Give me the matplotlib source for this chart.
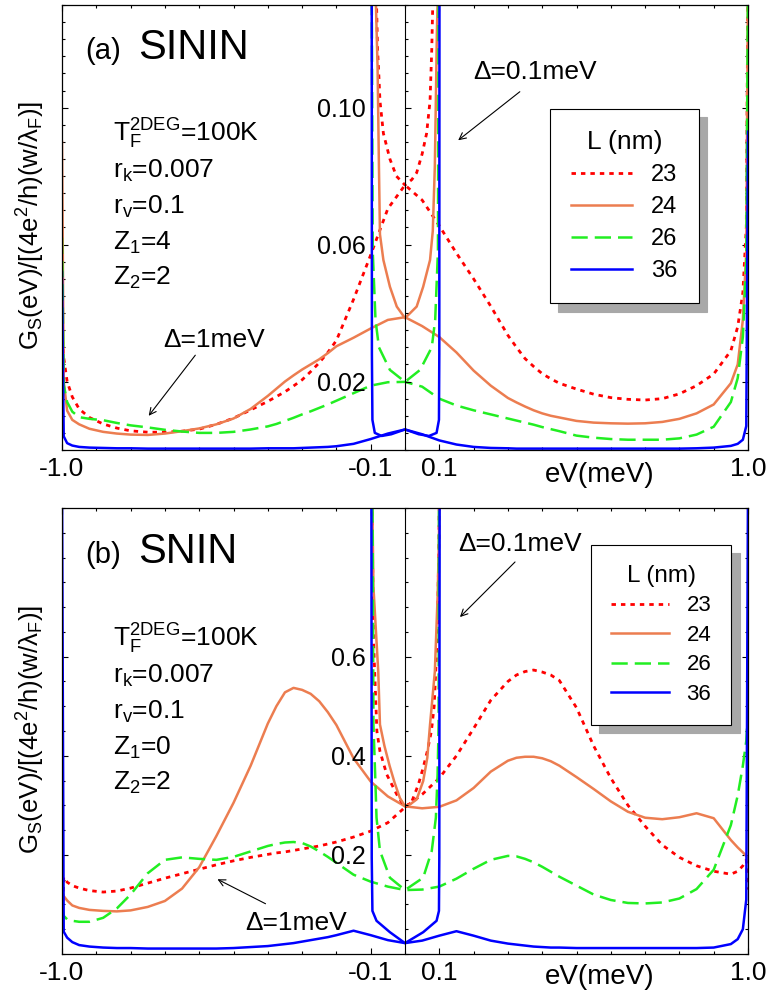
import matplotlib
matplotlib.use('Agg')
import matplotlib.pyplot as plt
from matplotlib.ticker import MultipleLocator, FixedLocator

plt.rcParams['font.family'] = ['Liberation Sans', 'DejaVu Sans']
plt.rcParams['mathtext.fontset'] = 'custom'
plt.rcParams['mathtext.rm'] = 'Liberation Sans'
plt.rcParams['mathtext.it'] = 'Liberation Sans:italic'

W, H = 769, 1000

# ---- data: bias eV (meV) for the Delta = 1 meV curves -----------------
ev = [-1.0, -0.995, -0.985, -0.97, -0.95, -0.92, -0.88, -0.84, -0.8,
      -0.75, -0.7, -0.65, -0.6, -0.55, -0.5, -0.45, -0.4, -0.375, -0.35, -0.325, -0.3, -0.275, -0.25, -0.225, -0.2, -0.15, -0.1, -0.05,
      0.0, 0.05, 0.1, 0.15, 0.2, 0.25, 0.3, 0.325, 0.35, 0.375, 0.4, 0.425, 0.45,
      0.5, 0.55, 0.6, 0.65, 0.7, 0.75, 0.8, 0.85, 0.9, 0.95,
      0.97, 0.985, 0.995, 1.0]

L_labels = ['23', '24', '26', '36']

# (a) SININ, Delta = 1 meV
a_red = [0.035, 0.027, 0.020, 0.0155, 0.012, 0.0095, 0.0076, 0.0064, 0.0056,
         0.0052, 0.0052, 0.0055, 0.0061, 0.0075, 0.0093, 0.0117, 0.0142, 0.0156, 0.0170, 0.0187, 0.0205, 0.0229, 0.0255, 0.0285, 0.032, 0.044, 0.057, 0.0705,
         0.0774, 0.073, 0.0655, 0.0575, 0.050, 0.042, 0.0335, 0.0300, 0.0267, 0.0244, 0.0223, 0.0208, 0.0195,
         0.0178, 0.0163, 0.0153, 0.0148, 0.0146, 0.0150, 0.0164, 0.0188, 0.0222, 0.029,
         0.036, 0.046, 0.065, 0.14]
a_org = [0.09, 0.020, 0.0115, 0.0088, 0.0075, 0.0062, 0.0053, 0.0048, 0.0045,
         0.0044, 0.0048, 0.0055, 0.0063, 0.0075, 0.0092, 0.0120, 0.0158, 0.0179, 0.0200, 0.0218, 0.0235, 0.0250, 0.0265, 0.0283, 0.0303, 0.0328, 0.0355, 0.0380,
         0.0388, 0.0362, 0.0330, 0.0285, 0.0232, 0.0188, 0.0152, 0.0139, 0.0127, 0.0116, 0.0107, 0.0100, 0.0095,
         0.0085, 0.0080, 0.0078, 0.0077, 0.0078, 0.0082, 0.0091, 0.0107, 0.0133, 0.0195,
         0.025, 0.038, 0.058, 0.14]
a_grn = [0.062, 0.019, 0.014, 0.0112, 0.0096, 0.0091, 0.0087, 0.0079, 0.0072,
         0.0066, 0.0059, 0.0054, 0.0050, 0.0050, 0.0053, 0.0060, 0.0069, 0.0076, 0.0085, 0.0094, 0.0104, 0.0113, 0.0123, 0.0133, 0.0144, 0.0166, 0.0188, 0.0198,
         0.0199, 0.0185, 0.0150, 0.0130, 0.0116, 0.0104, 0.0092, 0.0086, 0.0080, 0.0074, 0.0067, 0.0061, 0.0055,
         0.0042, 0.0036, 0.0032, 0.0030, 0.0030, 0.0030, 0.0034, 0.0045, 0.0068, 0.0140,
         0.021, 0.033, 0.055, 0.14]
a_blu = [0.052, 0.004, 0.002, 0.0013, 0.0009, 0.0007, 0.0006, 0.0005, 0.0005,
         0.0004, 0.0004, 0.0004, 0.0004, 0.0004, 0.0004, 0.0004, 0.0005, 0.0005, 0.0005, 0.0005, 0.0006, 0.0007, 0.0008, 0.0009, 0.0011, 0.0018, 0.0032, 0.0048,
         0.0060, 0.0046, 0.0028, 0.0016, 0.0009, 0.0006, 0.0005, 0.0004, 0.0004, 0.0004, 0.0004, 0.0004, 0.0004,
         0.0004, 0.0004, 0.0004, 0.0004, 0.0004, 0.0004, 0.0004, 0.0005, 0.0007, 0.0012,
         0.0018, 0.003, 0.007, 0.093]

# (b) SNIN, Delta = 1 meV
b_red = [0.05, 0.155, 0.145, 0.138, 0.133, 0.128, 0.125, 0.127, 0.133,
         0.143, 0.153, 0.162, 0.171, 0.180, 0.188, 0.195, 0.201, 0.204, 0.206, 0.209, 0.212, 0.215, 0.218, 0.222, 0.226, 0.236, 0.248, 0.265,
         0.296, 0.322, 0.355, 0.400, 0.455, 0.512, 0.550, 0.563, 0.570, 0.573, 0.569, 0.563, 0.552,
         0.497, 0.420, 0.355, 0.300, 0.258, 0.220, 0.195, 0.178, 0.167, 0.161,
         0.167, 0.178, 0.190, 0.13]
b_org = [0.13, 0.117, 0.108, 0.098, 0.093, 0.089, 0.087, 0.086, 0.088,
         0.095, 0.107, 0.132, 0.175, 0.238, 0.305, 0.380, 0.465, 0.500, 0.528, 0.537, 0.533, 0.525, 0.510, 0.488, 0.462, 0.395, 0.348, 0.318,
         0.298, 0.294, 0.297, 0.310, 0.335, 0.368, 0.390, 0.396, 0.398, 0.398, 0.395, 0.389, 0.380,
         0.357, 0.333, 0.308, 0.287, 0.275, 0.272, 0.276, 0.284, 0.274, 0.230,
         0.215, 0.205, 0.198, 0.19]
b_grn = [0.10, 0.077, 0.070, 0.067, 0.065, 0.065, 0.073, 0.092, 0.120,
         0.163, 0.190, 0.195, 0.192, 0.190, 0.196, 0.207, 0.218, 0.222, 0.225, 0.226, 0.224, 0.217, 0.207, 0.196, 0.184, 0.160, 0.146, 0.136,
         0.129, 0.130, 0.136, 0.152, 0.172, 0.190, 0.198, 0.197, 0.192, 0.185, 0.176, 0.166, 0.156,
         0.138, 0.120, 0.109, 0.103, 0.102, 0.104, 0.112, 0.131, 0.170, 0.260,
         0.320, 0.380, 0.430, 0.49]
b_blu = [0.95, 0.045, 0.033, 0.024, 0.018, 0.015, 0.013, 0.012, 0.012,
         0.011, 0.011, 0.011, 0.011, 0.011, 0.012, 0.014, 0.016, 0.018, 0.020, 0.022, 0.025, 0.028, 0.031, 0.034, 0.038, 0.047, 0.038, 0.028,
         0.022, 0.027, 0.037, 0.046, 0.037, 0.027, 0.021, 0.019, 0.017, 0.015, 0.014, 0.013, 0.013,
         0.012, 0.012, 0.012, 0.012, 0.012, 0.012, 0.012, 0.012, 0.013, 0.020,
         0.030, 0.050, 0.11, 0.95]

# Delta = 0.1 meV curves (sub-gap part only)
ua_red_x = [-0.084, -0.080, -0.076, -0.073, -0.063, -0.044, -0.025, 0.0, 0.020, 0.034, 0.050, 0.063, 0.073, 0.078, 0.082]
ua_red_y = [0.135, 0.117, 0.109, 0.102, 0.0925, 0.085, 0.080, 0.0774, 0.079, 0.081, 0.0865, 0.0925, 0.102, 0.117, 0.135]
ua_org_x = [-0.086, -0.080, -0.076, -0.073, -0.063, -0.044, -0.024, 0.0, 0.034, 0.053, 0.073, 0.081, 0.087, 0.093, 0.096]
ua_org_y = [0.135, 0.112, 0.083, 0.063, 0.0555, 0.0477, 0.0419, 0.0385, 0.0419, 0.0477, 0.0555, 0.064, 0.083, 0.122, 0.135]
ua_grn_x = [-0.097, -0.094, -0.090, -0.086, -0.076, -0.044, 0.0, 0.044, 0.078, 0.088, 0.092, 0.096, 0.098]
ua_grn_y = [0.135, 0.058, 0.048, 0.038, 0.030, 0.0234, 0.0199, 0.0234, 0.030, 0.038, 0.048, 0.058, 0.135]
ua_blu_x = [-0.097, -0.0965, -0.095, -0.088, -0.068, -0.040, 0.0, 0.040, 0.070, 0.092, 0.099, 0.100, 0.1005]
ua_blu_y = [0.135, 0.028, 0.0088, 0.005, 0.0041, 0.0046, 0.0060, 0.0046, 0.0041, 0.005, 0.0088, 0.028, 0.135]

ub_red_x = [-0.096, -0.095, -0.092, -0.082, -0.073, -0.053, -0.024, 0.0, 0.020, 0.039, 0.053, 0.065, 0.077, 0.085, 0.094, 0.099, 0.100]
ub_red_y = [0.95, 0.838, 0.637, 0.450, 0.409, 0.362, 0.322, 0.296, 0.308, 0.342, 0.376, 0.409, 0.450, 0.500, 0.637, 0.838, 0.95]
ub_org_x = [-0.096, -0.092, -0.078, -0.073, -0.060, -0.045, -0.030, -0.015, 0.0, 0.015, 0.034, 0.053, 0.065, 0.073, 0.087, 0.095, 0.099, 0.100]
ub_org_y = [0.95, 0.74, 0.57, 0.463, 0.42, 0.38, 0.345, 0.315, 0.298, 0.302, 0.312, 0.349, 0.396, 0.463, 0.57, 0.72, 0.84, 0.95]
ub_grn_x = [-0.095, -0.092, -0.087, -0.083, -0.073, -0.044, 0.0, 0.053, 0.078, 0.090, 0.095, 0.098, 0.099]
ub_grn_y = [0.95, 0.463, 0.362, 0.275, 0.208, 0.154, 0.129, 0.154, 0.208, 0.275, 0.362, 0.463, 0.95]
ub_blu_x = [-0.098, -0.097, -0.095, -0.083, -0.044, 0.0, 0.053, 0.092, 0.099, 0.100, 0.101]
ub_blu_y = [0.95, 0.195, 0.087, 0.067, 0.044, 0.022, 0.044, 0.067, 0.087, 0.195, 0.95]

x_ticks = [-1.0, -0.1, 0.1, 1.0]
x_ticklabels = ['-1.0', '-0.1', '0.1', '1.0']

styles = [
    dict(color='#ff0000', lw=2.0, ls=(0, (1.6, 1.8))),
    dict(color='#ec7d50', lw=1.8, ls='-'),
    dict(color='#22ee22', lw=1.8, ls=(0, (6.5, 2.8))),
    dict(color='#0000ff', lw=1.8, ls='-'),
]


def fx(px):
    return px / W


def fy(py):
    return 1 - py / H


fig = plt.figure(figsize=(W / 100, H / 100), dpi=100)


def make_panel(top_px, bot_px, ylim, yticks, yticklabels, yminor, full, sub, tag, name, params, p):
    ax = fig.add_axes([fx(62), fy(bot_px), fx(748) - fx(62), (bot_px - top_px) / H])
    lines = []
    for ys, st, lab in zip(full, styles, L_labels):
        ln, = ax.plot(ev, ys, label=lab, **st)
        lines.append(ln)
    for (xs, ys), st in zip(sub, styles):
        ax.plot(xs, ys, **st)
    ax.set_xlim(-1.0, 1.0)
    ax.set_ylim(*ylim)
    ax.xaxis.set_major_locator(FixedLocator(x_ticks))
    ax.set_xticklabels(x_ticklabels)
    ax.xaxis.set_minor_locator(MultipleLocator(0.1))
    ax.yaxis.set_major_locator(FixedLocator(yticks))
    ax.yaxis.set_minor_locator(MultipleLocator(yminor))
    ax.tick_params(which='both', direction='in', top=True, right=True, width=0.8)
    ax.tick_params(which='major', length=4.5)
    ax.tick_params(which='minor', length=2.5)
    ax.tick_params(axis='x', labelsize=19, pad=5)
    ax.tick_params(axis='y', labelleft=False)
    for s in ax.spines.values():
        s.set_linewidth(0.9)

    # axis drawn through eV = 0 carrying the y labels
    cax = fig.add_axes(ax.get_position().bounds)
    cax.set_ylim(*ylim)
    cax.patch.set_visible(False)
    for s in ('top', 'right', 'bottom'):
        cax.spines[s].set_visible(False)
    cax.spines['left'].set_position(('axes', 0.5))
    cax.spines['left'].set_linewidth(0.8)
    cax.set_xticks([])
    cax.yaxis.set_major_locator(FixedLocator(yticks))
    cax.set_yticklabels(yticklabels)
    cax.yaxis.set_minor_locator(MultipleLocator(yminor))
    cax.tick_params(axis='y', which='both', direction='in', width=0.8, labelsize=18, pad=28)
    cax.tick_params(which='major', length=4.5)
    cax.tick_params(which='minor', length=2.5)

    leg = ax.legend(handles=lines, title='L (nm)', loc='upper left',
                    bbox_to_anchor=p['leg_anchor'], borderaxespad=0,
                    fancybox=False, edgecolor='black', framealpha=1,
                    fontsize=p['leg_fs'], title_fontsize=p['leg_tfs'],
                    handlelength=2.6, handletextpad=0.8, labelspacing=p['leg_sp'],
                    borderpad=0.9,
                    shadow={'ox': 6, 'oy': -6, 'color': '#a8a8a8', 'alpha': 1})
    leg.get_frame().set_linewidth(0.8)

    fig.text(fx(85), fy(p['tag_y']), tag, fontsize=21, va='baseline')
    fig.text(fx(138), fy(p['tag_y']), name, fontsize=30, va='baseline')
    for i, s in enumerate(params):
        fig.text(fx(113), fy(p['par_y0'] + 35.8 * i), s, fontsize=19, va='baseline')

    fig.text(fx(31), fy((top_px + bot_px) / 2 - 2), r'G$_\mathregular{S}$(eV)/[(4e$^\mathregular{2}$/h)(w/λ$_\mathregular{F}$)]',
             rotation=90, ha='center', va='center', fontsize=18.5)
    fig.text(fx(600), fy(p['xlab_y']), 'eV(meV)', fontsize=20, ha='center', va='baseline')

    for txt, tpos, a0, a1 in p['notes']:
        fig.text(fx(tpos[0]), fy(tpos[1]), txt, fontsize=19, va='baseline')
        ax.annotate('', xy=(fx(a1[0]), fy(a1[1])), xytext=(fx(a0[0]), fy(a0[1])),
                    xycoords='figure fraction', textcoords='figure fraction',
                    arrowprops=dict(arrowstyle='->', lw=0.8, color='black', mutation_scale=12))
    return ax


make_panel(5, 450, (0, 0.13), [0.02, 0.06, 0.10], ['0.02', '0.06', '0.10'], 0.005,
           [a_red, a_org, a_grn, a_blu],
           [(ua_red_x, ua_red_y), (ua_org_x, ua_org_y), (ua_grn_x, ua_grn_y), (ua_blu_x, ua_blu_y)],
           '(a)', 'SININ',
           [r'$\mathregular{T_F^{2DEG}}$=100K', r'r$_\mathregular{k}$=0.007', r'r$_\mathregular{v}$=0.1',
            r'Z$_\mathregular{1}$=4', r'Z$_\mathregular{2}$=2'],
           dict(leg_anchor=(0.711, 0.766), leg_fs=17, leg_tfs=19, leg_sp=0.42,
                tag_y=59, par_y0=142, xlab_y=482,
                notes=[('Δ=0.1meV', (473, 79), (522, 90), (456, 142)),
                       ('Δ=1meV', (163, 347), (197, 353), (147, 418))]))

make_panel(508, 954, (0, 0.9), [0.2, 0.4, 0.6], ['0.2', '0.4', '0.6'], 0.05,
           [b_red, b_org, b_grn, b_blu],
           [(ub_red_x, ub_red_y), (ub_org_x, ub_org_y), (ub_grn_x, ub_grn_y), (ub_blu_x, ub_blu_y)],
           '(b)', 'SNIN',
           [r'$\mathregular{T_F^{2DEG}}$=100K', r'r$_\mathregular{k}$=0.007', r'r$_\mathregular{v}$=0.1',
            r'Z$_\mathregular{1}$=0', r'Z$_\mathregular{2}$=2'],
           dict(leg_anchor=(0.771, 0.917), leg_fs=16, leg_tfs=17.5, leg_sp=0.38,
                tag_y=563, par_y0=647, xlab_y=984,
                notes=[('Δ=0.1meV', (458, 551), (517, 560), (458, 619)),
                       ('Δ=1meV', (245, 930), (268, 905), (215, 878))]))

fig.savefig('out.png', dpi=100)
